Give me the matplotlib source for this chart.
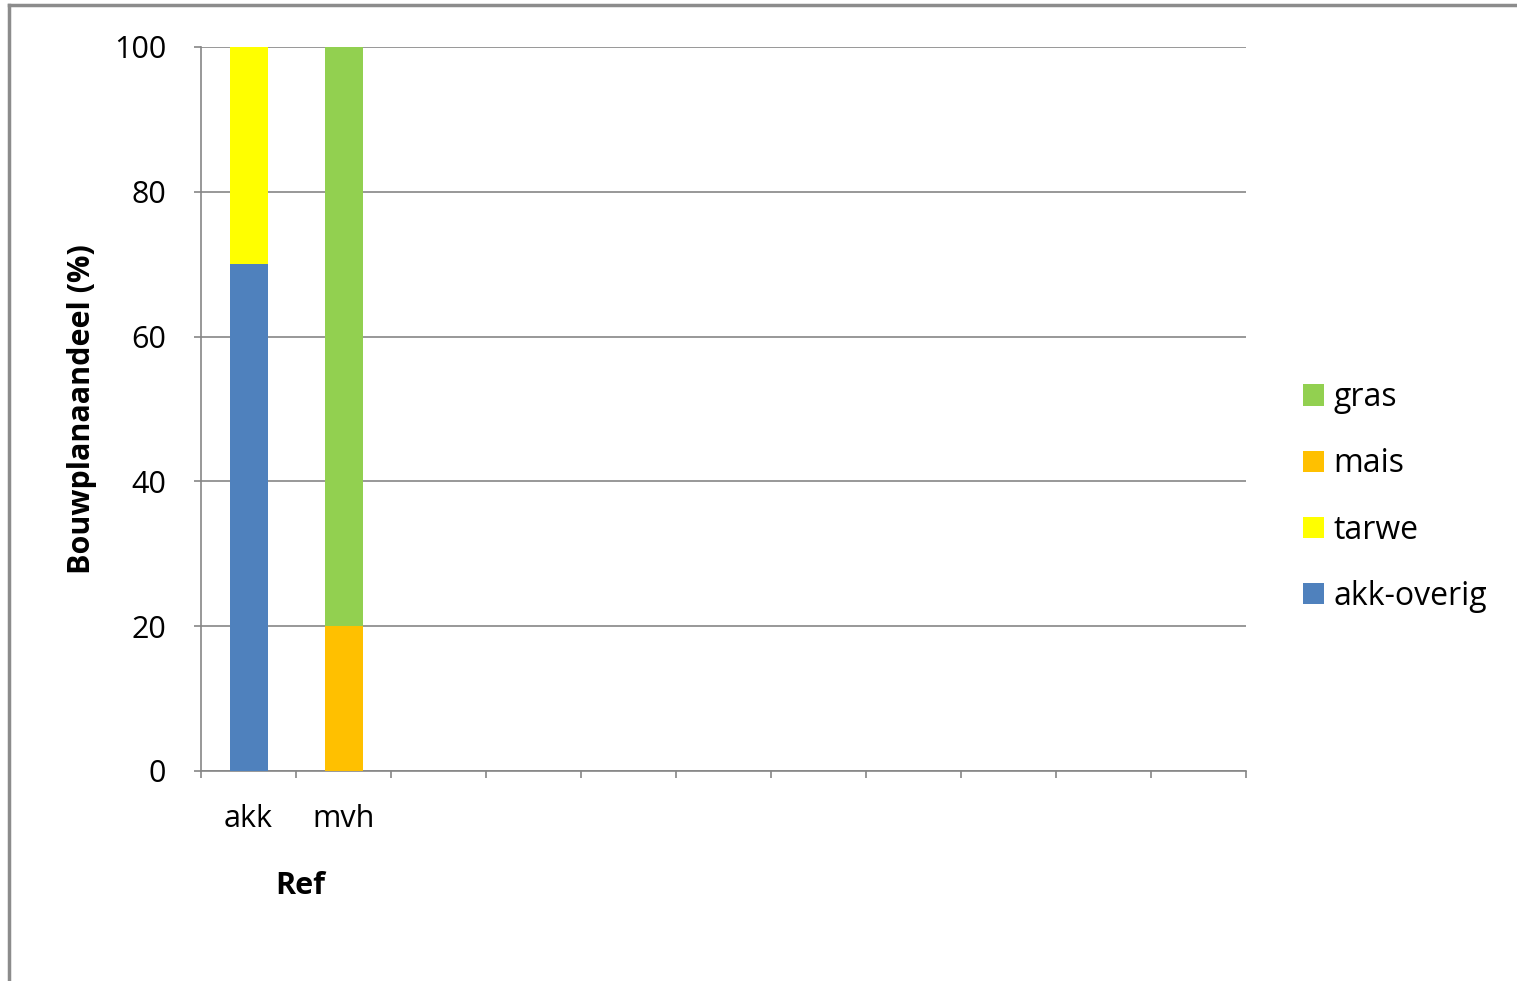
import numpy as np
import matplotlib.pyplot as plt
from matplotlib.patches import Patch
from matplotlib.lines import Line2D
from matplotlib import transforms

plt.rcParams['font.family'] = ['Open Sans', 'DejaVu Sans']

categories = ['akk', 'mvh', '', '', '', '', '', '', '', '', '']
akk_overig = [70, 0, 0, 0, 0, 0, 0, 0, 0, 0, 0]
tarwe = [30, 0, 0, 0, 0, 0, 0, 0, 0, 0, 0]
mais = [0, 20, 0, 0, 0, 0, 0, 0, 0, 0, 0]
gras = [0, 80, 0, 0, 0, 0, 0, 0, 0, 0, 0]

series = [('akk-overig', akk_overig, '#4f81bd'),
          ('tarwe', tarwe, '#ffff00'),
          ('mais', mais, '#ffc000'),
          ('gras', gras, '#92d050')]

W, H = 1517, 981
fig = plt.figure(figsize=(W / 100, H / 100), dpi=100)
ax = fig.add_axes([201 / W, 1 - 771 / H, (1246 - 201) / W, (771 - 47) / H])

x = np.arange(len(categories))
bottom = np.zeros(len(categories))
handles = []
for name, vals, col in series:
    vals = np.array(vals, dtype=float)
    ax.bar(x, vals, width=0.4, bottom=bottom, color=col, zorder=3)
    bottom += vals
    handles.append(Patch(facecolor=col, label=name))

grey = '#868686'
ax.set_xlim(-0.5, len(categories) - 0.5)
ax.set_ylim(0, 100)
ax.set_yticks(range(0, 101, 20))
ax.yaxis.grid(True, color=grey, linewidth=1.2, zorder=0)
for s in ['top', 'right']:
    ax.spines[s].set_visible(False)
for s in ['left', 'bottom']:
    ax.spines[s].set_color(grey)
    ax.spines[s].set_linewidth(1.2)

fs = 22
ax.set_xticks(x)
ax.set_xticklabels(categories)
ax.set_xticks(np.arange(-0.5, len(categories)), minor=True)
ax.tick_params(axis='x', which='major', length=0, pad=24, labelsize=fs, colors='#000000')
ax.tick_params(axis='x', which='minor', length=5, width=1.2, color=grey)
ax.tick_params(axis='y', length=5, width=1.2, color=grey, labelsize=fs, pad=20)

ax.set_ylabel('Bouwplanaandeel (%)', fontsize=fs, fontweight='bold', labelpad=12)

# group label under the first two categories
trans = transforms.blended_transform_factory(ax.transData, fig.transFigure)
fig.text(0.55, 1 - 886 / H, 'Ref', transform=trans, ha='center', va='center',
         fontsize=fs, fontweight='bold')

ax.legend(handles=handles[::-1], loc='center left',
          bbox_to_anchor=(1303 / W, 1 - 497 / H), bbox_transform=fig.transFigure,
          frameon=False, fontsize=23, handlelength=0.65, handleheight=0.65,
          handletextpad=0.3, labelspacing=1.04, borderpad=0, borderaxespad=0)

# outer chart border
fig.add_artist(Line2D([9 / W, 9 / W], [0, 1 - 5 / H], color='#8c8c8c', linewidth=2.5))
fig.add_artist(Line2D([9 / W, 1], [1 - 5 / H, 1 - 5 / H], color='#8c8c8c', linewidth=2.5))

fig.savefig('out.png', dpi=100, facecolor='white')
